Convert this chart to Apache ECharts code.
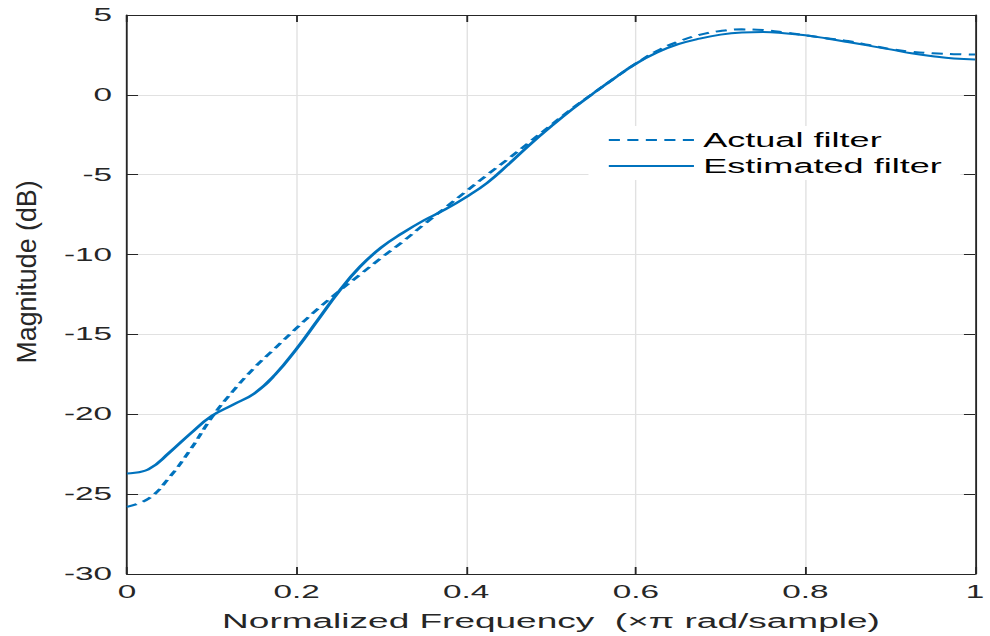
<!DOCTYPE html>
<html>
<head>
<meta charset="utf-8">
<script src="https://cdn.jsdelivr.net/npm/echarts@6/dist/echarts.min.js"></script>
<style>
html, body { margin: 0; padding: 0; overflow: hidden; background: #fff; }
/* the reference is a horizontally stretched figure, so draw narrow and stretch */
#chart { width: 535px; height: 636px; transform: scaleX(1.8505); transform-origin: 0 0; }
</style>
</head>
<body>
<div id="chart"></div>
<script>
// normalized frequency (x pi rad/sample)
var freq = [0, 0.025, 0.05, 0.075, 0.1, 0.125, 0.15, 0.175, 0.2, 0.225, 0.25, 0.275, 0.3, 0.325, 0.35,
	0.375, 0.4, 0.425, 0.45, 0.475, 0.5, 0.525, 0.55, 0.575, 0.6, 0.625, 0.65, 0.675, 0.7, 0.725,
	0.75, 0.775, 0.8, 0.825, 0.85, 0.875, 0.9, 0.925, 0.95, 0.975, 1]
// magnitude in dB
var actual = [-25.8, -25.3, -23.95, -22.2, -20.2, -18.55, -17.1, -15.85, -14.6, -13.4, -12.3, -11.25, -10.2, -9.2, -8.12,
	-7.08, -6.04, -5.0, -3.99, -2.95, -1.9, -0.85, 0.1, 1.05, 1.95, 2.75, 3.33, 3.75, 4.0, 4.1,
	4.06, 3.92, 3.73, 3.55, 3.37, 3.12, 2.87, 2.7, 2.6, 2.55, 2.52]
var estimated = [-23.7, -23.45, -22.4, -21.2, -20.1, -19.4, -18.7, -17.5, -15.9, -14.1, -12.3, -10.75, -9.55, -8.65, -7.86,
	-7.18, -6.4, -5.5, -4.34, -3.12, -1.98, -0.9, 0.1, 1.05, 1.95, 2.65, 3.17, 3.52, 3.77, 3.9,
	3.93, 3.86, 3.73, 3.53, 3.31, 3.08, 2.85, 2.6, 2.42, 2.28, 2.22]
var seriesNames = ['Actual filter', 'Estimated filter']
var xName = 'Normalized Frequency  (\u00d7\u03c0 rad/sample)'
var yName = 'Magnitude (dB)'

var font = '"Liberation Sans", Arial, Helvetica, sans-serif'
var axisColor = '#262626'
var lineColor = '#0072BD'

function pairs(ys) {
	return freq.map(function (x, i) { return [x, ys[i]] })
}

var chart = echarts.init(document.getElementById('chart'), null, { renderer: 'svg' })

var frameAxis = {
	axisLine: { show: true, onZero: false, lineStyle: { color: axisColor, width: 1 } },
	axisLabel: { show: false },
	splitLine: { show: false }
}

chart.setOption({
	animation: false,
	backgroundColor: '#fff',
	grid: { left: 68.6, right: 8.1, top: 15, bottom: 60 },
	legend: {
		data: seriesNames,
		orient: 'vertical',
		left: 318,
		top: 126,
		backgroundColor: '#fff',
		padding: [4, 10],
		itemWidth: 46,
		itemHeight: 14,
		itemGap: 6,
		itemStyle: { opacity: 0 }, // line sample only, no marker
		textStyle: { fontFamily: font, fontSize: 19.5, color: '#000' }
	},
	xAxis: [{
		type: 'value',
		min: 0,
		max: 1,
		interval: 0.2,
		name: xName,
		nameLocation: 'middle',
		nameGap: 37,
		nameTextStyle: { fontFamily: font, fontSize: 20, color: axisColor },
		axisLine: { show: true, onZero: false, lineStyle: { color: axisColor, width: 1 } },
		axisTick: { show: true, inside: true, length: 7, lineStyle: { color: axisColor } },
		axisLabel: { margin: 9, fontFamily: font, fontSize: 18, color: axisColor },
		// vertical lines get widened by the stretch
		splitLine: { show: true, lineStyle: { color: '#e1e1e1', width: 0.75 } }
	}, Object.assign({
		type: 'value', min: 0, max: 1, interval: 0.2, position: 'top',
		axisTick: { show: true, inside: true, length: 7, lineStyle: { color: axisColor } }
	}, frameAxis)],
	yAxis: [{
		type: 'value',
		min: -30,
		max: 5,
		interval: 5,
		axisLine: { show: true, onZero: false, lineStyle: { color: axisColor, width: 1 } },
		axisTick: { show: true, inside: true, length: 6, lineStyle: { color: axisColor } },
		axisLabel: { margin: 8, fontFamily: font, fontSize: 18, color: axisColor },
		splitLine: { show: true, lineStyle: { color: '#e1e1e1', width: 1 } }
	}, Object.assign({
		type: 'value', min: -30, max: 5, interval: 5, position: 'right',
		axisTick: { show: true, inside: true, length: 6, lineStyle: { color: axisColor } }
	}, frameAxis)],
	// y label drawn as text so it can be squeezed back after the stretch
	graphic: [{
		type: 'text',
		x: 14.6,
		y: 272,
		rotation: Math.PI / 2,
		scaleY: 0.54,
		style: {
			text: yName,
			font: '26.8px ' + font,
			fill: axisColor,
			align: 'center',
			verticalAlign: 'middle',
			textAlign: 'center',
			textVerticalAlign: 'middle'
		}
	}],
	series: [{
		name: seriesNames[0],
		type: 'line',
		data: pairs(actual),
		smooth: 0.45,
		showSymbol: false,
		symbol: 'none',
		color: lineColor,
		lineStyle: { color: lineColor, width: 2, type: [6, 4] },
		z: 3
	}, {
		name: seriesNames[1],
		type: 'line',
		data: pairs(estimated),
		smooth: 0.45,
		showSymbol: false,
		symbol: 'none',
		color: lineColor,
		lineStyle: { color: lineColor, width: 2 },
		z: 2
	}]
})
</script>
</body>
</html>
